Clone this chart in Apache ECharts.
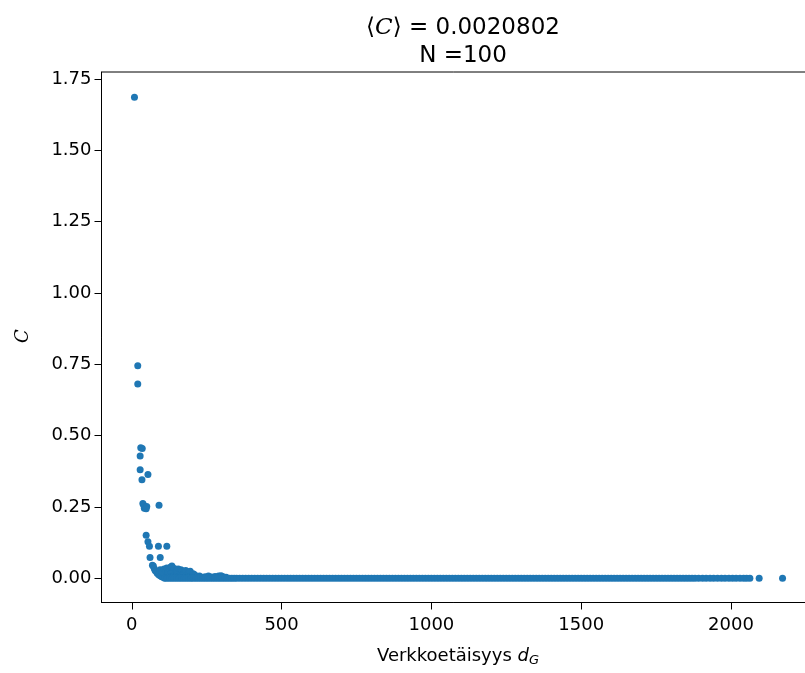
<!DOCTYPE html>
<html>
<head>
<meta charset="utf-8">
<script src="https://cdn.jsdelivr.net/npm/echarts@6/dist/echarts.min.js"></script>
<style>html,body{margin:0;padding:0;background:#fff}#c{width:805px;height:673px}</style>
</head>
<body>
<div id="c"></div>
<script>
// ---- data ----
const titleMean = "0.0020802";
const titleN = "N =100";
const xTicks = [0, 500, 1000, 1500, 2000];
const yTicks = [0, 0.25, 0.5, 0.75, 1.0, 1.25, 1.5, 1.75];

// isolated high points [d_G, C]
const highPoints = [
  [9, 1.686], [20, 0.745], [20, 0.681], [30, 0.458], [35, 0.455], [28, 0.429],
  [28, 0.381], [54, 0.364], [34, 0.346], [37, 0.262], [40, 0.256], [42, 0.246],
  [46, 0.250], [50, 0.252], [48, 0.244], [91, 0.256], [48, 0.151], [54, 0.128],
  [59, 0.113], [89, 0.113], [117, 0.113], [61, 0.073], [95, 0.073]
];
// points just above zero
const lowPoints = [
  [69,0.046],[72,0.043],[75,0.035],[78,0.028],[82,0.024],[85,0.018],[90,0.013],[95,0.009],
  [100,0.006],[105,0.004],[110,0.002],
  [95,0.030],[102,0.022],[108,0.033],[114,0.028],[117,0.036],[121,0.020],[126,0.030],
  [130,0.040],[134,0.043],[138,0.025],[142,0.035],[146,0.018],[150,0.030],[155,0.033],
  [160,0.022],[164,0.030],[168,0.027],[172,0.015],[176,0.024],[180,0.028],[185,0.012],
  [190,0.022],[195,0.025],[200,0.010],[205,0.016],[210,0.013],[218,0.006],[226,0.008],
  [235,0.004],[245,0.006],[256,0.008],[266,0.005],[278,0.007],[290,0.008],[298,0.009],
  [305,0.006],[315,0.004],
  [120,0.012],[130,0.015],[140,0.010],[150,0.012],[160,0.008],[170,0.009],[180,0.006],
  [125,0.006],[135,0.004],[145,0.005],[155,0.004],[165,0.003],[175,0.003],[190,0.004],[200,0.002]
];
// the dense band at C ~ 0 (d_G positions)
const bandX = [
  110,118,126,134,142,150,158,166,174,182,190,198,206,214,222,230,238,246,254,262,270,278,286,294,302,310,318,326,334,342,
  350,360,370,380,390,400,410,420,430,440,450,460,470,480,490,500,510,520,530,540,550,560,570,580,590,600,610,620,630,640,
  650,660,670,680,690,700,710,720,730,740,750,760,770,780,790,800,810,820,830,840,850,860,870,880,890,900,910,920,930,940,
  950,960,970,980,990,1000,1010,1020,1030,1040,1050,1060,1070,1080,1090,1100,1110,1120,1130,1140,1150,1160,1170,1180,1190,
  1200,1210,1220,1230,1240,1250,1260,1270,1280,1290,1300,1310,1320,1330,1340,1350,1360,1370,1380,1390,1400,1410,1420,1430,
  1440,1450,1460,1470,1480,1490,1500,1510,1520,1530,1540,1550,1560,1570,1580,1590,1600,1610,1620,1630,1640,1650,1660,1670,
  1680,1690,1700,1710,1720,1730,1740,1750,1760,1770,1780,1790,1800,1810,1820,1830,1840,1850,1860,1870,1880,1892,1905,1917,
  1930,1942,1955,1968,1980,1993,2005,2017,2030,2042,2052,2063
];
const bandC = 0.0005;
const tailPoints = [[2094, 0.0005], [2172, 0.0005]];

// ---- chart ----
const FONT = "DejaVu Sans";
const allPoints = highPoints.concat(lowPoints, bandX.map(x => [x, bandC]), tailPoints);

const chart = echarts.init(document.getElementById('c'), null, {renderer: 'canvas'});
chart.setOption({
  animation: false,
  backgroundColor: '#fff',
  title: {
    text: '⟨{i|C}⟩ = ' + titleMean + '\n' + titleN,
    left: 458, top: 9, textAlign: 'center',
    textStyle: {
      fontFamily: FONT, fontSize: 23, fontWeight: 'normal', color: '#000', lineHeight: 28,
      rich: { i: { fontFamily: 'DejaVu Serif', fontStyle: 'italic', fontSize: 23, color: '#000', lineHeight: 28 } }
    }
  },
  grid: {
    left: 101.5, top: 72, width: 712.8, height: 530.5,
    outerBoundsMode: 'none', containLabel: false,
    show: true, borderColor: '#000', borderWidth: 1, backgroundColor: 'transparent'
  },
  xAxis: {
    type: 'value', min: -101, max: 2278,
    splitLine: {show: false},
    axisLine: {show: true, onZero: false, lineStyle: {color: '#000', width: 1}},
    axisTick: {show: true, length: 7, lineStyle: {color: '#000'}, customValues: xTicks},
    axisLabel: {customValues: xTicks, fontFamily: FONT, fontSize: 18, color: '#000', margin: 14,
                formatter: v => String(v)}
  },
  yAxis: {
    type: 'value', min: -0.0845, max: 1.7745,
    splitLine: {show: false},
    axisLine: {show: true, onZero: false, lineStyle: {color: '#000', width: 1}},
    axisTick: {show: true, length: 7, lineStyle: {color: '#000'}, customValues: yTicks},
    axisLabel: {customValues: yTicks, fontFamily: FONT, fontSize: 18, color: '#000', margin: 10,
                formatter: v => v.toFixed(2)}
  },
  series: [{
    type: 'scatter',
    data: allPoints,
    symbol: 'circle',
    symbolSize: 7,
    itemStyle: {color: '#1f77b4', opacity: 1},
    emphasis: {disabled: true}
  }],
  graphic: [
    {
      type: 'text', x: 23, y: 336, rotation: Math.PI / 2,
      style: {text: 'C', font: 'italic 18px "DejaVu Serif"', fill: '#000', align: 'center', verticalAlign: 'middle'}
    },
    {
      type: 'text', x: 458, y: 656,
      style: {
        text: 'Verkkoetäisyys {d|d}{s|G}',
        fontFamily: FONT, fontSize: 18, fill: '#000', align: 'center', verticalAlign: 'middle',
        rich: {
          d: {fontFamily: 'DejaVu Sans', fontStyle: 'italic', fontSize: 18, fill: '#000'},
          s: {fontFamily: 'DejaVu Sans', fontStyle: 'italic', fontSize: 13, fill: '#000', padding: [10, 0, 0, 0]}
        }
      }
    }
  ]
});
</script>
</body>
</html>
